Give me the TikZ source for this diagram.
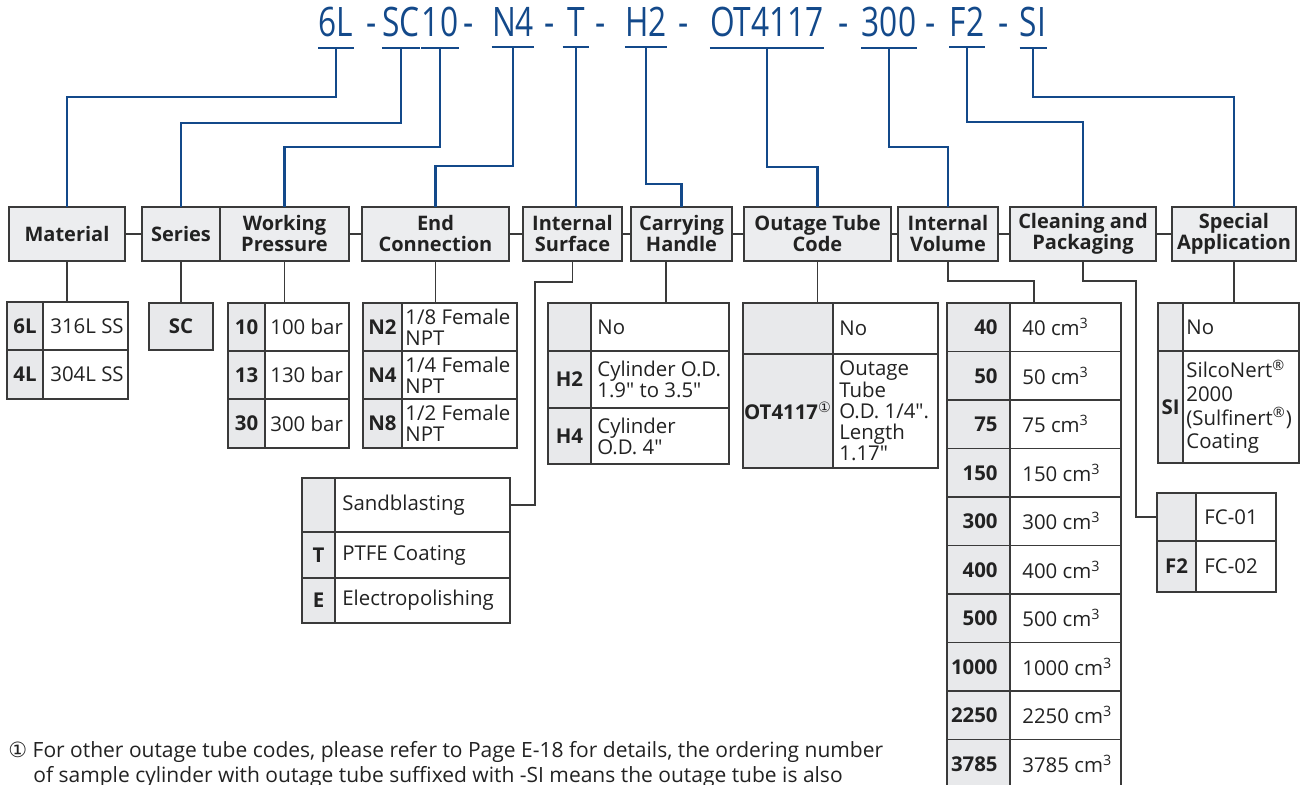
\documentclass[tikz,border=0pt]{standalone}
\usepackage{fontspec}
\setmainfont{Open Sans}[Ligatures=TeXOff]
\newfontfamily\circfont{DejaVu Sans}
\usepackage{graphicx}
\usetikzlibrary{calc}

\definecolor{codeblue}{HTML}{13498A}
\definecolor{boxline}{HTML}{3A3A3A}
\definecolor{hdrgray}{HTML}{ECEDEF}
\definecolor{codegray}{HTML}{E8E9EB}
\definecolor{txtdark}{HTML}{222222}

\newcommand{\cd}[1]{\scalebox{0.78}[1]{#1}}
\newcommand{\cellfnt}{\fontsize{10.2}{10.6}\selectfont}
\newcommand{\vpad}{3}

% one option row: code cell + value cell
\newcommand{\optrow}[9][center]{%
  \pgfmathsetmacro{\cellw}{((#4)-(#3))/2}
  \pgfmathsetmacro{\valw}{((#5)-(#4))/2}
  \pgfmathsetmacro{\rowh}{((#7)-(#6))/2}
  \node[codebox, minimum width=\cellw pt, minimum height=\rowh pt] (#2c) at (#3,#6) {};
  \node[valbox, minimum width=\valw pt, minimum height=\rowh pt] (#2v) at (#4,#6) {};
  \node[codetxt, anchor=#1] (#2ct) at (#2c.#1) {#8};
  \node[valtxt] (#2vt) at ([xshift=\vpad pt]#2v.west) {#9};
}

\tikzset{
  hdr/.style={draw=boxline, fill=hdrgray, line width=0.8pt, minimum height=27pt,
    inner sep=0pt, outer sep=0pt, anchor=west, align=center, text=txtdark,
    font=\fontsize{10}{10.5}\selectfont\bfseries},
  codebox/.style={draw=boxline, fill=codegray, line width=0.75pt, inner sep=0pt,
    outer sep=0pt, anchor=north west},
  valbox/.style={codebox, fill=white},
  codetxt/.style={inner xsep=6pt, inner ysep=0pt, text=txtdark, font=\cellfnt\bfseries},
  valtxt/.style={anchor=west, inner sep=0pt, align=left, text=txtdark, font=\cellfnt},
  codetop/.style={anchor=base, inner xsep=0pt, inner ysep=5pt, minimum width=13pt,
    text=codeblue, font=\fontsize{20.3}{22}\selectfont},
  blueline/.style={draw=codeblue, line width=1.1pt},
  gline/.style={draw=boxline, line width=0.7pt},
  fnote/.style={anchor=base west, inner sep=0pt, text=txtdark, font=\fontsize{10.5}{11}\selectfont},
}

\begin{document}
\begin{tikzpicture}[x=0.5pt, y=-0.5pt]
  \useasboundingbox (0,0) rectangle (1308,785);

  % ordering code
  \node[codetop] (c1) at (336,37) {\cd{6L}};
  \node[codetop] (d1) at (372,37) {\cd{-}};
  \node[codetop] (c2) at (401,37) {\cd{SC}};
  \node[codetop] (c3) at (440,37) {\cd{10}};
  \node[codetop] (d2) at (469,37) {\cd{-}};
  \node[codetop] (c4) at (513,37) {\cd{N4}};
  \node[codetop] (d3) at (550,37) {\cd{-}};
  \node[codetop] (c5) at (576,37) {\cd{T}};
  \node[codetop] (d4) at (601,37) {\cd{-}};
  \node[codetop] (c6) at (646,37) {\cd{H2}};
  \node[codetop] (d5) at (684,37) {\cd{-}};
  \node[codetop] (c7) at (767,37) {\cd{OT4117}};
  \node[codetop] (d6) at (844,37) {\cd{-}};
  \node[codetop] (c8) at (889,37) {\cd{300}};
  \node[codetop] (d7) at (931,37) {\cd{-}};
  \node[codetop] (c9) at (967,37) {\cd{F2}};
  \node[codetop] (d8) at (1004,37) {\cd{-}};
  \node[codetop] (c10) at (1033,37) {\cd{SI}};

  % headers
  \node[hdr, minimum width=58pt] (hMat) at (9,234) {Material};
  \node[hdr, minimum width=39pt] (hSer) at (142,234) {Series};
  \node[hdr, minimum width=64.5pt] (hWP) at (220,234) {Working\\Pressure};
  \node[hdr, minimum width=73.5pt] (hEnd) at (362,234) {End\\Connection};
  \node[hdr, minimum width=49.5pt] (hIS) at (523,234) {Internal\\Surface};
  \node[hdr, minimum width=50.5pt] (hCH) at (631,234) {Carrying\\Handle};
  \node[hdr, minimum width=73.5pt] (hOT) at (744,234) {Outage Tube\\Code};
  \node[hdr, minimum width=50pt] (hIV) at (898,234) {Internal\\Volume};
  \node[hdr, minimum width=73pt] (hCP) at (1010,234) {Cleaning and\\Packaging};
  \node[hdr, minimum width=62pt] (hSA) at (1172,234) {Special\\Application};

  % option tables
  \renewcommand{\vpad}{3.5}
  \optrow{mt0}{7}{43}{128}{302}{350}{6L}{316L SS}
  \optrow{mt1}{7}{43}{128}{350}{399}{4L}{304L SS}

  \node[codebox, minimum width=32pt, minimum height=23.5pt] (scBox) at (149,303) {};
  \node[codetxt] (scTxt) at (scBox.center) {SC};

  \renewcommand{\vpad}{2.5}
  \optrow{wp0}{228}{265}{349}{303}{351}{10}{100 bar}
  \optrow{wp1}{228}{265}{349}{351}{399}{13}{130 bar}
  \optrow{wp2}{228}{265}{349}{399}{448}{30}{300 bar}

  \renewcommand{\vpad}{1.5}
  \optrow{ec0}{363}{402}{517}{303}{351}{N2}{1/8 Female\\NPT}
  \optrow{ec1}{363}{402}{517}{351}{399}{N4}{1/4 Female\\NPT}
  \optrow{ec2}{363}{402}{517}{399}{448}{N8}{1/2 Female\\NPT}

  \renewcommand{\vpad}{3}
  \optrow{ch0}{548}{591}{729}{303}{351}{}{No}
  \optrow{ch1}{548}{591}{729}{351}{408}{H2}{Cylinder O.D.\\1.9" to 3.5"}
  \optrow{ch2}{548}{591}{729}{408}{464}{H4}{Cylinder\\O.D. 4"}

  \optrow{ot0}{743}{833}{938}{303}{354}{}{No}
  \optrow{ot1}{743}{833}{938}{354}{468}{OT4117\textsuperscript{\circfont\mdseries ①}}{Outage\\Tube\\O.D. 1/4".\\Length\\1.17"}

  \renewcommand{\vpad}{3.5}
  \optrow{is0}{302}{335}{510}{478}{532}{}{Sandblasting}
  \optrow{is1}{302}{335}{510}{532}{578}{T}{PTFE Coating}
  \optrow{is2}{302}{335}{510}{578}{623}{E}{Electropolishing}

  \renewcommand{\vpad}{6}
  \foreach \vol [count=\i from 0] in {40,50,75,150,300,400,500,1000,2250,3785} {
    \optrow[east]{iv\i}{947}{1010}{1121}{303+48.5*\i}{351.5+48.5*\i}{\vol}{\vol\ cm\textsuperscript{3}}
  }

  \renewcommand{\vpad}{1.5}
  \optrow{sa0}{1158}{1183}{1299}{303}{351}{}{No}
  \optrow{sa1}{1158}{1183}{1299}{351}{463}{SI}{SilcoNert\textsuperscript{®}\\[1.2pt]2000\\[1.2pt](Sulfinert\textsuperscript{®})\\[1.2pt]Coating}

  \renewcommand{\vpad}{4}
  \optrow{fc0}{1157}{1196}{1276}{493}{541}{}{FC-01}
  \optrow{fc1}{1157}{1196}{1276}{541}{592}{F2}{FC-02}

  % code to header connectors
  \foreach \c in {c1,c2,c3,c4,c5,c6,c7,c8,c9,c10}
    \draw[blueline] (\c.south west) -- (\c.south east);
  \draw[blueline] (c1.south) -- ++(0,49) -| (hMat.north);
  \draw[blueline] (c2.south) -- ++(0,75) -| (hSer.north);
  \draw[blueline] (c3.south) -- ++(0,99) -| (hWP.north);
  \draw[blueline] (c4.south) -- ++(0,119) -| (hEnd.north);
  \draw[blueline] (c5.south) -- (c5.south |- hIS.north);
  \draw[blueline] (c6.south) -- ++(0,137) -| (hCH.north);
  \draw[blueline] (c7.south) -- ++(0,119) -| (hOT.north);
  \draw[blueline] (c8.south) -- ++(0,99) -| (hIV.north);
  \draw[blueline] (c9.south) -- ++(0,75) -| (hCP.north);
  \draw[blueline] (c10.south) -- ++(0,49) -| (hSA.north);

  % header links
  \draw[gline] (hMat.east) -- (hSer.west);
  \draw[gline] (hWP.east) -- (hEnd.west);
  \draw[gline] (hEnd.east) -- (hIS.west);
  \draw[gline] (hIS.east) -- (hCH.west);
  \draw[gline] (hCH.east) -- (hOT.west);
  \draw[gline] (hOT.east) -- (hIV.west);
  \draw[gline] (hIV.east) -- (hCP.west);
  \draw[gline] (hCP.east) -- (hSA.west);

  % header to table connectors
  \draw[gline] (hMat.south) -- (hMat.south |- mt0c.north);
  \draw[gline] (hSer.south) -- (scBox.north);
  \draw[gline] (hWP.south) -- (hWP.south |- wp0c.north);
  \draw[gline] (hEnd.south) -- (hEnd.south |- ec0c.north);
  \draw[gline] (hIS.south) -- ++(0,21) -| ([xshift=12.5pt]is0v.east) -- (is0v.east);
  \coordinate (chDrop) at ([xshift=-7.75pt]hCH.south);
  \draw[gline] (chDrop) -- (chDrop |- ch0v.north);
  \draw[gline] (hOT.south) -- (hOT.south |- ot0v.north);
  \draw[gline] (hIV.south) -- ++(0,20) -| ($(iv0c.north west)!0.5!(iv0v.north east)$);
  \draw[gline] (hCP.south) -- ++(0,20) -| ([xshift=-10.5pt]fc0c.west) -- (fc0c.west);
  \draw[gline] (hSA.south) -- (hSA.south |- sa0c.north);

  % footnote
  \node[fnote] (fn1) at (8,758) {{\circfont ①} For other outage tube codes, please refer to Page E-18 for details, the ordering number};
  \node[fnote] (fn2) at (33,783) {of sample cylinder with outage tube suffixed with -SI means the outage tube is also};
\end{tikzpicture}
\end{document}
